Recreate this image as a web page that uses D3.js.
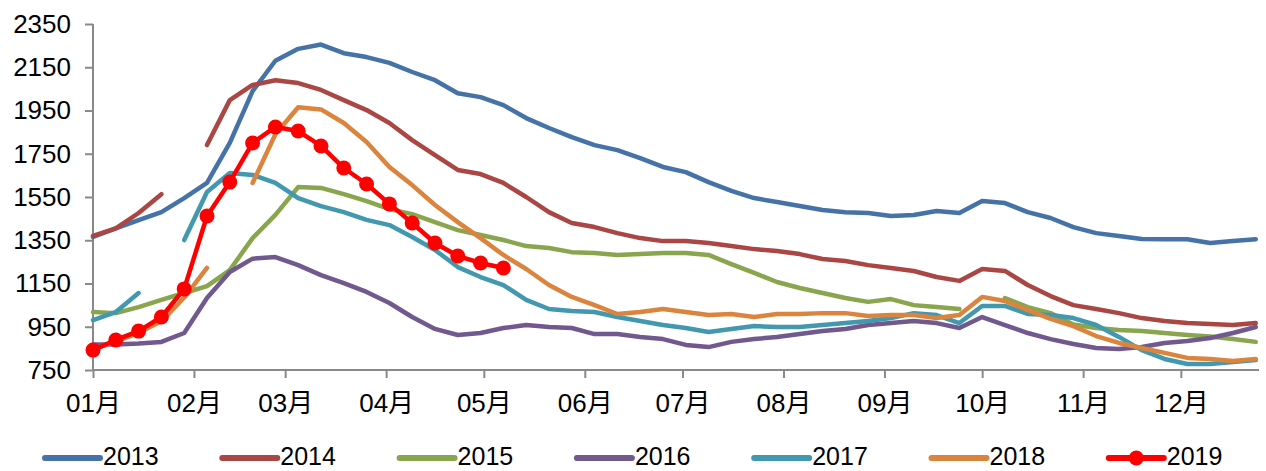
<!DOCTYPE html>
<html>
<head>
<meta charset="utf-8">
<script src="https://cdn.jsdelivr.net/npm/d3@7"></script>
<style>
    body { margin: 0; background: #fff; }
    #chart text { font-family: "Liberation Sans", Arial, "Noto Sans CJK SC", sans-serif; fill: #000; }
</style>
</head>
<body>
<div id="chart"></div>
<script>
// Weekly values, 52 weeks per year (null = no data that week)
var years = ['2013', '2014', '2015', '2016', '2017', '2018', '2019'];

var s2013 = [1365, 1405, 1443, 1480, 1545, 1615, 1800, 2040, 2180, 2235, 2255, 2215, 2197, 2170, 2128, 2090,
    2030, 2012, 1975, 1915, 1869, 1827, 1790, 1767, 1730, 1689, 1665, 1619, 1578, 1545, 1527, 1508,
    1490, 1480, 1476, 1462, 1467, 1485, 1476, 1531, 1522, 1480, 1453, 1411, 1383, 1370, 1356, 1355,
    1355, 1337, 1346, 1355];
var s2014 = [1370, 1405, 1476, 1563, null, 1790, 1998, 2068, 2090, 2077, 2045, 1998, 1952, 1892, 1813, 1744,
    1675, 1656, 1615, 1550, 1480, 1430, 1411, 1383, 1360, 1346, 1346, 1337, 1323, 1309, 1300, 1286,
    1263, 1254, 1235, 1222, 1208, 1180, 1162, 1217, 1208, 1143, 1092, 1050, 1032, 1013, 990, 977,
    967, 963, 958, 967];
var s2015 = [1018, 1013, 1041, 1074, 1106, 1138, 1212, 1360, 1467, 1596, 1592, 1563, 1531, 1494, 1471, 1434,
    1397, 1374, 1351, 1323, 1314, 1295, 1291, 1282, 1286, 1291, 1291, 1282, 1240, 1199, 1157, 1129,
    1106, 1083, 1065, 1078, 1050, 1041, 1032, null, 1083, 1041, 1013, 960, 944, 935, 930, 921,
    912, 905, 893, 880];
var s2016 = [868, 868, 872, 880, 921, 1083, 1203, 1265, 1272, 1235, 1189, 1152, 1111, 1060, 995, 940,
    912, 921, 944, 958, 949, 944, 916, 916, 903, 893, 866, 856, 880, 893, 903, 916,
    930, 940, 958, 967, 977, 967, 944, 995, 958, 921, 893, 870, 852, 847, 856, 875,
    884, 898, 921, 949];
var s2017 = [981, 1018, 1106, null, 1351, 1573, 1661, 1652, 1615, 1545, 1508, 1480, 1444, 1420, 1365, 1305,
    1226, 1180, 1143, 1074, 1032, 1023, 1018, 995, 977, 958, 944, 926, 940, 953, 949, 949,
    958, 967, 977, 990, 1013, 1004, 967, 1046, 1046, 1009, 1004, 990, 958, 903, 842, 801,
    778, 778, 787, 796];
var s2018 = [845, 882, 922, 975, 1085, 1222, null, 1615, 1840, 1965, 1955, 1892, 1804, 1689, 1605, 1513,
    1434, 1360, 1282, 1217, 1143, 1088, 1050, 1009, 1018, 1032, 1018, 1004, 1009, 995, 1009, 1009,
    1013, 1013, 1000, 1004, 1004, 990, 1004, 1088, 1069, 1027, 986, 953, 907, 875, 852, 829,
    806, 801, 792, 801];
var s2019 = [842, 889, 930, 995, 1125, 1462, 1619, 1800, 1874, 1855, 1786, 1684, 1610, 1518, 1430, 1337,
    1277, 1245, 1222];

var seriesColors = ['#4572A7', '#AA4643', '#89A54E', '#71588F', '#4198AF', '#DB843D', '#FF0000'];

var monthLabels = ['01月', '02月', '03月', '04月', '05月', '06月', '07月', '08月', '09月', '10月', '11月', '12月'];
var monthStartDays = [0, 31, 59, 90, 120, 151, 181, 212, 243, 273, 304, 334];
var yTicks = [750, 950, 1150, 1350, 1550, 1750, 1950, 2150, 2350];

/**
 * Draw the seven yearly price lines
 */
function renderChart() {
    var width = 1266, height = 471;
    var svg = d3.select('#chart').append('svg')
        .attr('width', width)
        .attr('height', height);

    var x = d3.scaleLinear().domain([0, 358]).range([93, 1259]);
    var y = d3.scaleLinear().domain([750, 2350]).range([370, 24]);

    // y axis
    var yAxis = svg.append('g')
        .attr('transform', 'translate(93,0)')
        .call(d3.axisLeft(y).tickValues(yTicks).tickSize(8).tickPadding(14).tickFormat(d3.format('d')));
    // x axis
    var xAxis = svg.append('g')
        .attr('transform', 'translate(0,370)')
        .call(d3.axisBottom(x).tickValues(monthStartDays).tickSize(8).tickPadding(16)
            .tickFormat(function(d, i) { return monthLabels[i]; }));

    [yAxis, xAxis].forEach(function(ax) {
        ax.select('.domain').attr('stroke', '#898989').attr('stroke-width', 2);
        ax.selectAll('.tick line').attr('stroke', '#898989').attr('stroke-width', 2);
        ax.selectAll('.tick text').style('font-size', '26px');
    });
    xAxis.select('.domain').attr('d', 'M93,0H1259');
    yAxis.select('.domain').attr('d', 'M0,370V24');

    var allSeries = [s2013, s2014, s2015, s2016, s2017, s2018, s2019];

    var line = d3.line()
        .defined(function(d) { return d != null; })
        .x(function(d, i) { return x(i * 7); })
        .y(function(d) { return y(d); });

    allSeries.forEach(function(vals, k) {
        svg.append('path')
            .datum(vals)
            .attr('fill', 'none')
            .attr('stroke', seriesColors[k])
            .attr('stroke-width', 4.5)
            .attr('stroke-linejoin', 'round')
            .attr('stroke-linecap', 'round')
            .attr('d', line);
    });

    // 2019 markers
    svg.selectAll('.pt2019')
        .data(s2019)
        .enter()
        .append('circle')
        .attr('class', 'pt2019')
        .attr('cx', function(d, i) { return x(i * 7); })
        .attr('cy', function(d) { return y(d); })
        .attr('r', 7.5)
        .attr('fill', '#FF0000');

    // legend
    var legend = svg.append('g');
    years.forEach(function(yr, k) {
        var lx = 45 + k * 177.3;
        var g = legend.append('g').attr('transform', 'translate(' + lx + ',458)');
        g.append('line')
            .attr('x1', 0).attr('x2', 55)
            .attr('stroke', seriesColors[k])
            .attr('stroke-width', 6)
            .attr('stroke-linecap', 'round');
        if (yr === '2019') {
            g.append('circle').attr('cx', 27.5).attr('r', 7.5).attr('fill', seriesColors[k]);
        }
        g.append('text')
            .attr('x', 58)
            .attr('y', 7)
            .style('font-size', '25px')
            .text(yr);
    });
}

renderChart();
</script>
</body>
</html>
